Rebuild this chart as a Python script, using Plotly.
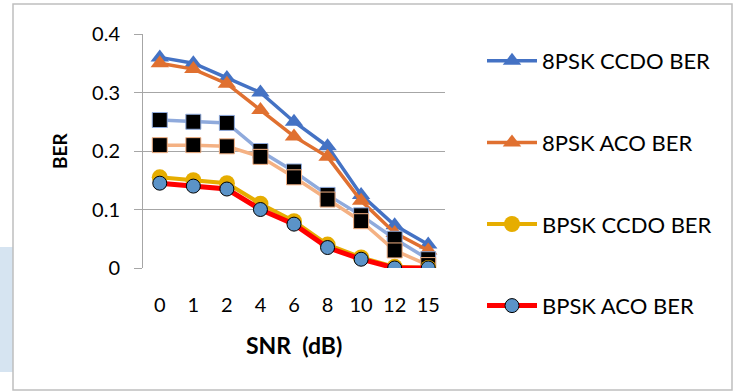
import plotly.graph_objects as go

snr = ["0", "1", "2", "4", "6", "8", "10", "12", "15"]
ber_8psk_ccdo = [0.36, 0.35, 0.325, 0.30, 0.25, 0.208, 0.125, 0.073, 0.04]
ber_8psk_aco = [0.35, 0.34, 0.315, 0.27, 0.225, 0.19, 0.115, 0.06, 0.03]
ber_extra_a = [0.253, 0.25, 0.248, 0.20, 0.165, 0.125, 0.09, 0.05, 0.015]
ber_extra_b = [0.21, 0.21, 0.208, 0.19, 0.155, 0.117, 0.08, 0.03, 0.005]
ber_bpsk_ccdo = [0.155, 0.15, 0.145, 0.11, 0.08, 0.04, 0.018, 0.002, 0.0]
ber_bpsk_aco = [0.145, 0.14, 0.135, 0.10, 0.075, 0.035, 0.015, 0.0, 0.0]
y_ticks = [0, 0.1, 0.2, 0.3, 0.4]
y_tick_text = ["0", "0.1", "0.2", "0.3", "0.4"]

W, H = 733, 392
L, R, T, B = 143, 445, 34, 268

def px(x):
    return (x - L) / (R - L)

def py(y):
    return (B - y) / (B - T)

fig = go.Figure()
fig.add_trace(go.Scatter(x=snr, y=ber_8psk_ccdo, name="8PSK CCDO BER", mode="lines+markers",
                         line=dict(color="#4472c4", width=3.5),
                         marker=dict(symbol="triangle-up", size=16, color="#4472c4"),
                         legendgroup="a"))
fig.add_trace(go.Scatter(x=snr, y=ber_8psk_aco, name="8PSK ACO BER", mode="lines+markers",
                         line=dict(color="#e07030", width=3.5),
                         marker=dict(symbol="triangle-up", size=16, color="#e07030"),
                         legendgroup="b"))
fig.add_trace(go.Scatter(x=snr, y=ber_extra_a, name="extra a", mode="lines+markers",
                         line=dict(color="#8faadc", width=3.5),
                         marker=dict(symbol="square", size=15, color="#000000",
                                     line=dict(color="#8faadc", width=1)),
                         showlegend=False))
fig.add_trace(go.Scatter(x=snr, y=ber_extra_b, name="extra b", mode="lines+markers",
                         line=dict(color="#f4b183", width=3.5),
                         marker=dict(symbol="square", size=15, color="#000000",
                                     line=dict(color="#f4b183", width=1)),
                         showlegend=False))
fig.add_trace(go.Scatter(x=snr, y=ber_bpsk_ccdo, name="BPSK CCDO BER", mode="lines+markers",
                         line=dict(color="#e6ad00", width=4),
                         marker=dict(symbol="circle", size=16, color="#e6ad00"),
                         legendgroup="c"))
fig.add_trace(go.Scatter(x=snr, y=ber_bpsk_aco, name="BPSK ACO BER", mode="lines+markers",
                         line=dict(color="#ff0000", width=5),
                         marker=dict(symbol="circle", size=14, color="#5b93c8",
                                     line=dict(color="#000000", width=1)),
                         legendgroup="d"))

shapes = [
    dict(type="rect", xref="paper", yref="paper", x0=px(0), x1=px(13), y0=py(372), y1=py(247),
         fillcolor="#d6e4f1", line=dict(width=0), layer="below"),
    dict(type="rect", xref="paper", yref="paper", x0=px(13), x1=px(732), y0=py(390), y1=py(4),
         fillcolor="rgba(0,0,0,0)", line=dict(color="#bfbfbf", width=1.5), layer="below"),
]

annotations = [
    dict(text="<b>BER</b>", xref="paper", yref="paper", x=px(59), y=py(151), textangle=-90,
         showarrow=False, font=dict(family="Lato", size=19, color="#000000"),
         xanchor="center", yanchor="middle"),
    dict(text="<b>SNR  (dB)</b>", xref="paper", yref="paper", x=px(294), y=py(345),
         showarrow=False, font=dict(family="Lato", size=23, color="#000000"),
         xanchor="center", yanchor="middle"),
]

fig.update_layout(
    width=W, height=H,
    margin=dict(l=L, r=W - R, t=T, b=H - B),
    paper_bgcolor="white", plot_bgcolor="white",
    font=dict(family="Lato", size=20, color="#000000"),
    shapes=shapes, annotations=annotations,
    legend=dict(x=px(482), y=py(40), xanchor="left", yanchor="top",
                traceorder="grouped", tracegroupgap=50, itemwidth=50,
                maxheight=380,
                font=dict(family="Lato", size=22, color="#000000"),
                bgcolor="rgba(0,0,0,0)"),
    xaxis=dict(type="category", categoryorder="array", categoryarray=snr,
               range=[-0.5, 8.5], showgrid=False, showline=False, zeroline=False,
               ticks="", ticklabelstandoff=23,
               tickfont=dict(family="Lato", size=20)),
    yaxis=dict(range=[0, 0.4], tickvals=y_ticks, ticktext=y_tick_text,
               showgrid=True, gridcolor="#a6a6a6", gridwidth=1,
               showline=True, linecolor="#a6a6a6", linewidth=1,
               ticks="outside", ticklen=8, tickcolor="#a6a6a6",
               zeroline=False, ticklabelstandoff=10,
               tickfont=dict(family="Lato", size=20)),
)

fig.write_html("out.html")
